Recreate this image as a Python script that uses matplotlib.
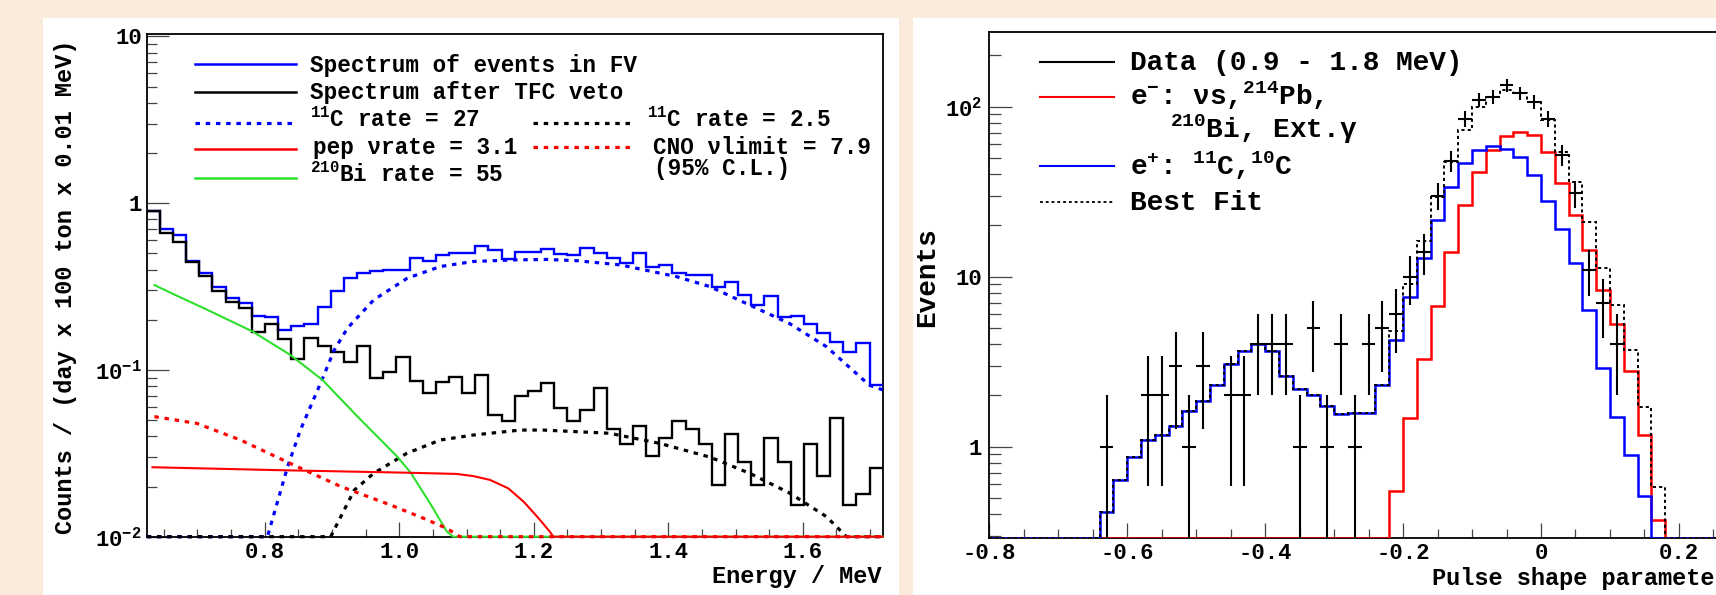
import numpy as np
import matplotlib
matplotlib.use("Agg")
import matplotlib.pyplot as plt
from matplotlib.lines import Line2D
from matplotlib.patches import Rectangle
from matplotlib.ticker import LogLocator, MultipleLocator, NullFormatter

plt.rcParams["font.family"] = ["Liberation Mono", "DejaVu Sans"]
plt.rcParams["font.weight"] = "bold"
plt.rcParams["mathtext.fontset"] = "custom"
plt.rcParams["mathtext.rm"] = "Liberation Mono:bold"
plt.rcParams["mathtext.it"] = "Liberation Mono:bold"
plt.rcParams["mathtext.bf"] = "Liberation Mono:bold"
plt.rcParams["mathtext.default"] = "rm"
plt.rcParams["axes.unicode_minus"] = False

# ---------------- left panel: energy spectra ----------------
E_LO = 0.6245
E_BINW = 0.01954
fv_spec = [0.90, 0.70, 0.645, 0.453, 0.38, 0.313, 0.269, 0.253, 0.211, 0.208,
           0.174, 0.184, 0.189, 0.240, 0.299, 0.355, 0.380, 0.393, 0.398, 0.398,
           0.472, 0.453, 0.488, 0.506, 0.50, 0.55, 0.525, 0.461, 0.513, 0.513,
           0.530, 0.497, 0.49, 0.537, 0.50, 0.468, 0.436, 0.50, 0.417, 0.427,
           0.380, 0.371, 0.371, 0.316, 0.339, 0.282, 0.245, 0.278, 0.209, 0.211,
           0.189, 0.166, 0.147, 0.129, 0.145, 0.0813]
tfc_spec = [0.90, 0.66, 0.589, 0.446, 0.366, 0.299, 0.257, 0.234, 0.168, 0.188,
            0.153, 0.117, 0.155, 0.140, 0.128, 0.111, 0.140, 0.089, 0.0977, 0.119,
            0.0863, 0.0724, 0.0843, 0.0904, 0.0724, 0.0933, 0.0537, 0.0494, 0.0698, 0.0751,
            0.0832, 0.0589, 0.0494, 0.0575, 0.0776, 0.0441, 0.0360, 0.0464, 0.0306, 0.0389,
            0.0494, 0.0441, 0.0360, 0.0204, 0.0411, 0.0282, 0.0204, 0.0389, 0.0282, 0.0155,
            0.0360, 0.0232, 0.0512, 0.0155, 0.0180, 0.0259]

c11_e = [0.6245, 0.804, 0.834, 0.853, 0.886, 0.903, 0.923, 0.962, 1.012, 1.061, 1.11,
         1.17, 1.22, 1.264, 1.328, 1.412, 1.462, 1.521, 1.58, 1.635, 1.699, 1.7187]
c11_v = [0.005, 0.01, 0.0263, 0.0436, 0.089, 0.131, 0.178, 0.263, 0.355, 0.417, 0.447,
         0.457, 0.46, 0.452, 0.427, 0.363, 0.316, 0.245, 0.19, 0.138, 0.081, 0.076]
c11tfc_e = [0.6245, 0.898, 0.933, 0.962, 1.011, 1.061, 1.11, 1.18, 1.214, 1.313, 1.387,
            1.462, 1.521, 1.58, 1.635, 1.665, 1.7187]
c11tfc_v = [0.005, 0.01, 0.019, 0.024, 0.0316, 0.038, 0.0407, 0.0436, 0.0436, 0.0417, 0.0363,
            0.030, 0.024, 0.0183, 0.0132, 0.01, 0.005]
bi_e = [0.636, 0.665, 0.715, 0.782, 0.838, 0.886, 0.938, 0.997, 1.017, 1.046, 1.071, 1.08, 1.7187]
bi_v = [0.323, 0.284, 0.229, 0.17, 0.123, 0.087, 0.0525, 0.0302, 0.0242, 0.0158, 0.0107, 0.01, 0.005]
pep_e = [0.633, 0.813, 1.011, 1.085, 1.11, 1.135, 1.162, 1.185, 1.205, 1.224, 1.229, 1.7187]
pep_v = [0.0261, 0.0251, 0.0242, 0.0238, 0.0231, 0.0219, 0.0195, 0.0162, 0.0132, 0.0107, 0.01, 0.005]
cno_e = [0.636, 0.699, 0.764, 0.838, 0.913, 0.987, 1.036, 1.071, 1.09, 1.7187]
cno_v = [0.0525, 0.0478, 0.038, 0.0275, 0.020, 0.0155, 0.0129, 0.0112, 0.01, 0.005]

left_xticks = [0.8, 1.0, 1.2, 1.4, 1.6]
left_xlabels = ["0.8", "1.0", "1.2", "1.4", "1.6"]
left_yticks = [0.01, 0.1, 1, 10]
left_ylabels = [r"$10^{-2}$", r"$10^{-1}$", "1", "10"]

# ---------------- right panel: pulse shape parameter ----------------
PSP_LO = -0.8
PSP_BINW = 0.02
positron = [0, 0, 0, 0, 0, 0, 0, 0,
            0.415, 0.64, 0.87, 1.09, 1.17, 1.33, 1.61, 1.86, 2.3, 3.06, 3.67, 4.02,
            3.67, 2.6, 2.17, 2.01, 1.73, 1.55, 1.57, 1.58, 2.3, 4.24,
            7.6, 12.9, 21.6, 33.6, 46.5, 55.6, 58.7, 56.3, 50.4, 39.6,
            27.9, 19.0, 12.0, 6.4, 2.9, 1.5, 0.89, 0.51, 0.2, 0,
            0, 0, 0, 0, 0]
electron = [0] * 29 + [0.55, 1.48, 3.28, 6.7, 14.0, 26.4, 41.5, 55.6, 66.8, 71.3, 68.2,
                       54.4, 35.4, 23.1, 14.4, 8.3, 5.3, 2.8, 1.17, 0.37, 0,
                       0, 0, 0, 0, 0]
best_fit = [0, 0, 0, 0, 0, 0, 0, 0,
            0.415, 0.64, 0.87, 1.09, 1.17, 1.33, 1.61, 1.86, 2.3, 3.06, 3.67, 4.02,
            3.67, 2.6, 2.17, 2.01, 1.73, 1.55, 1.57, 1.58, 2.3, 4.8,
            9.1, 16.2, 29.5, 47, 73, 100, 114, 125, 121, 106,
            83, 54, 36, 21, 11.2, 6.8, 3.7, 1.7, 0.58, 0,
            0, 0, 0, 0, 0]
data_counts = [0, 0, 0, 0, 0, 0, 0, 0,
               1, 0, 0, 2, 2, 3, 1, 3, 0, 2, 2, 4,
               4, 4, 1, 5, 1, 4, 1, 4, 5, 6,
               10, 14, 30, 48, 85, 110, 114, 134, 120, 107,
               85, 52, 31, 11, 7, 4, 0, 0, 0, 0,
               0, 0, 0, 0, 0]
right_xticks = [-0.8, -0.6, -0.4, -0.2, 0.0, 0.2]
right_xlabels = ["-0.8", "-0.6", "-0.4", "-0.2", "0", "0.2"]
right_yticks = [1, 10, 100]
right_ylabels = ["1", "10", r"$10^{2}$"]

BEIGE = "#fbebdc"
BLUE = "#0000ff"
RED = "#ff0000"
GREEN = "#2ee02e"
TICKC = "#444444"

W, H = 1716, 595
fig = plt.figure(figsize=(W / 100, H / 100), dpi=100, facecolor=BEIGE)


def fx(x):
    return x / W


def fy(y):
    return 1 - y / H


# white panels behind each plot
for x0, x1 in [(43, 899), (913, W)]:
    fig.add_artist(Rectangle((fx(x0), 0), fx(x1) - fx(x0), fy(18.3),
                             transform=fig.transFigure, facecolor="white",
                             edgecolor="none", zorder=-5))

dotted = (0, (1.4, 1.8))

# ================= left =================
ax1 = fig.add_axes([fx(146.7), fy(536.7), fx(882.7) - fx(146.7), fy(34.3) - fy(536.7)])
edges1 = E_LO + E_BINW * np.arange(len(fv_spec) + 1)
Y1LO, Y1HI = 0.01, 10.3
ax1.set_yscale("log")
ax1.set_xlim(edges1[0], edges1[-1])
ax1.set_ylim(Y1LO, Y1HI)

ax1.stairs(np.clip(fv_spec, Y1LO, None), edges1, baseline=None, color=BLUE, lw=1.7, zorder=3)
ax1.stairs(np.clip(tfc_spec, Y1LO, None), edges1, baseline=None, color="black", lw=1.7, zorder=3)
ax1.plot(c11_e, np.clip(c11_v, Y1LO, None), color=BLUE, lw=2.3, ls=dotted, zorder=4, clip_on=False)
ax1.plot(c11tfc_e, np.clip(c11tfc_v, Y1LO, None), color="black", lw=2.3, ls=dotted, zorder=4, clip_on=False)
ax1.plot(bi_e, np.clip(bi_v, Y1LO, None), color=GREEN, lw=1.5, zorder=4, clip_on=False)
ax1.plot(pep_e, np.clip(pep_v, Y1LO, None), color=RED, lw=1.5, zorder=4, clip_on=False)
ax1.plot(cno_e, np.clip(cno_v, Y1LO, None), color=RED, lw=2.3, ls=dotted, zorder=4, clip_on=False)

ax1.set_xticks(left_xticks)
ax1.set_xticklabels(left_xlabels)
ax1.xaxis.set_minor_locator(MultipleLocator(0.05))
ax1.set_yticks(left_yticks)
ax1.set_yticklabels(left_ylabels)
ax1.yaxis.set_minor_locator(LogLocator(10, subs=np.arange(2, 10)))
ax1.yaxis.set_minor_formatter(NullFormatter())
ax1.tick_params(which="both", direction="in", top=False, right=False, color=TICKC,
                width=0.9, labelsize=16)
ax1.tick_params(axis="y", which="major", length=15.8, pad=3.4)
ax1.tick_params(axis="y", which="minor", length=7.2)
ax1.tick_params(axis="x", which="major", length=10.8, pad=3.5)
ax1.tick_params(axis="x", which="minor", length=5.8)
for s in ax1.spines.values():
    s.set_linewidth(1.3)

fig.text(fx(881.7), fy(576.7), "Energy / MeV", fontsize=17, ha="right", va="center")
fig.text(fx(66), fy(40), "Counts / (day x 100 ton x 0.01 MeV)", fontsize=17,
         rotation=90, ha="center", va="top")

# ================= right =================
ax2 = fig.add_axes([fx(989.3), fy(538.3), fx(1747.9) - fx(989.3), fy(31.7) - fy(538.3)])
edges2 = PSP_LO + PSP_BINW * np.arange(len(positron) + 1)
Y2LO, Y2HI = 0.289, 276
ax2.set_yscale("log")
ax2.set_xlim(edges2[0], edges2[-1])
ax2.set_ylim(Y2LO, Y2HI)

ax2.stairs(np.clip(electron, Y2LO, None), edges2, baseline=None, color=RED, lw=1.8, zorder=3)
ax2.stairs(np.clip(positron, Y2LO, None), edges2, baseline=None, color=BLUE, lw=1.8, zorder=3)
ax2.stairs(np.clip(best_fit, Y2LO, None), edges2, baseline=None, color="black", lw=1.4,
           ls=(0, (1.6, 1.6)), zorder=4)

counts = np.array(data_counts, dtype=float)
centers = edges2[:-1] + PSP_BINW / 2
has = counts > 0
err = np.sqrt(counts[has])
lower = counts[has] - np.maximum(counts[has] - err, Y2LO * 0.5)
ax2.errorbar(centers[has], counts[has], xerr=PSP_BINW / 2, yerr=[lower, err], fmt="none",
             ecolor="black", elinewidth=1.5, capsize=0, zorder=5)

ax2.set_xticks(right_xticks)
ax2.set_xticklabels(right_xlabels)
ax2.xaxis.set_minor_locator(MultipleLocator(0.05))
ax2.set_yticks(right_yticks)
ax2.set_yticklabels(right_ylabels)
ax2.yaxis.set_minor_locator(LogLocator(10, subs=np.arange(2, 10)))
ax2.yaxis.set_minor_formatter(NullFormatter())
ax2.tick_params(which="both", direction="in", top=False, right=False, color=TICKC,
                width=0.9, labelsize=16)
ax2.tick_params(axis="y", which="major", length=16.3, pad=5.3)
ax2.tick_params(axis="y", which="minor", length=8.6)
ax2.tick_params(axis="x", which="major", length=11, pad=3.5)
ax2.tick_params(axis="x", which="minor", length=6.5)
for s in ax2.spines.values():
    s.set_linewidth(1.3)

# the axis title runs past the right edge of the image, as in the original figure
fig.text(fx(1431.7), fy(578), "Pulse shape parameter", fontsize=17, ha="left", va="center")
fig.text(fx(927.3), fy(277.5), "Events", fontsize=20, rotation=90, ha="center", va="center")


# ================= legends =================
def key(x0, x1, y, **kw):
    fig.add_artist(Line2D([fx(x0), fx(x1)], [fy(y), fy(y)], transform=fig.transFigure, **kw))


def label(x, y, s, size):
    fig.text(fx(x), fy(y + 0.3 * size * 100 / 72), s, fontsize=size, ha="left", va="baseline")


LS = 16.3
key(195, 296, 64, color=BLUE, lw=1.8)
key(195, 296, 91.7, color="black", lw=1.8)
key(195, 296, 122.7, color=BLUE, lw=2.3, ls=dotted)
key(195, 296, 149, color=RED, lw=1.8)
key(195, 296, 178.3, color=GREEN, lw=1.8)
key(533, 634, 123.3, color="black", lw=2.3, ls=dotted)
key(533, 634, 147.3, color=RED, lw=2.3, ls=dotted)
label(310, 65, "Spectrum of events in FV", LS)
label(310, 92.7, "Spectrum after TFC veto", LS)
label(310, 120.7, r"$^{11}$C rate = 27", LS)
label(313, 147.7, "pep νrate = 3.1", LS)
label(310, 175.7, r"$^{210}$Bi rate = 55", LS)
label(647, 120.7, r"$^{11}$C rate = 2.5", LS)
label(653, 147.7, "CNO νlimit = 7.9", LS)
label(654, 168.3, "(95% C.L.)", LS)

RS = 20
key(1040, 1114, 61.7, color="black", lw=1.5)
key(1040, 1114, 96.7, color=RED, lw=1.5)
key(1040, 1114, 165.7, color=BLUE, lw=1.5)
key(1040, 1114, 201.7, color="black", lw=1.3, ls=(0, (1.6, 1.6)))
label(1130, 62, "Data (0.9 - 1.8 MeV)", RS)
label(1130, 96.7, r"e$^{-}$: νs,$^{214}$Pb,", RS)
label(1170, 130, r"$^{210}$Bi, Ext.γ", RS)
label(1130, 166.7, r"e$^{+}$: $^{11}$C,$^{10}$C", RS)
label(1130, 201.7, "Best Fit", RS)

fig.savefig("out.png", dpi=100, facecolor=BEIGE)
